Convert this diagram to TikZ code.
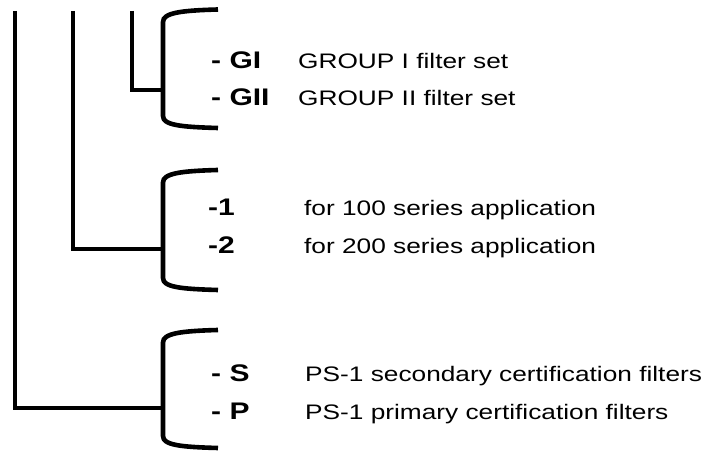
\documentclass[tikz,border=0pt]{standalone}
\usepackage{fontspec}
\setmainfont{Liberation Sans}[FakeStretch=1.25]
\begin{document}
\begin{tikzpicture}[x=1pt,y=1pt,
  ln/.style={line width=4.6pt, line cap=butt, line join=miter},
  lbl/.style={anchor=base west, inner sep=0pt, font=\fontsize{24}{24}\selectfont\bfseries},
  desc/.style={anchor=base west, inner sep=0pt, font=\fontsize{21}{21}\selectfont}]
\useasboundingbox (0,0) rectangle (716,452);
% brackets
\draw[ln] (218,442.5) .. controls (180,441.5) and (163,439) .. (163,430) -- (163,336) .. controls (163,327) and (180,325) .. (218,324);
\draw[ln] (218,282) .. controls (180,281) and (163,278.5) .. (163,269.5) -- (163,174) .. controls (163,165) and (180,163) .. (218,162);
\draw[ln] (218,122) .. controls (180,121) and (163,118.5) .. (163,109.5) -- (163,16) .. controls (163,7) and (180,5) .. (218,4);
% junctions
\coordinate (j1) at (163,362);
\coordinate (j2) at (163,203);
\coordinate (j3) at (163,44);
\coordinate (t3) at (132,441);
\coordinate (t2) at (73,441);
\coordinate (t1) at (15,441);
\draw[ln] (t3) |- (j1);
\draw[ln] (t2) |- (j2);
\draw[ln] (t1) |- (j3);
% texts
\node[lbl] (gi) at (211,383) {- GI};
\node[desc] (gid) at (298,383) {GROUP I filter set};
\node[lbl] (gii) at (211,346) {- GII};
\node[desc] (giid) at (298,346) {GROUP II filter set};
\node[lbl] (o1) at (208,236) {-1};
\node[desc] (o1d) at (304,236) {for 100 series application};
\node[lbl] (o2) at (208,198) {-2};
\node[desc] (o2d) at (304,198) {for 200 series application};
\node[lbl] (s) at (211,70) {- S};
\node[desc] (sd) at (305,70) {PS-1 secondary certification filters};
\node[lbl] (p) at (211,32) {- P};
\node[desc] (pd) at (305,32) {PS-1 primary certification filters};
\end{tikzpicture}
\end{document}
